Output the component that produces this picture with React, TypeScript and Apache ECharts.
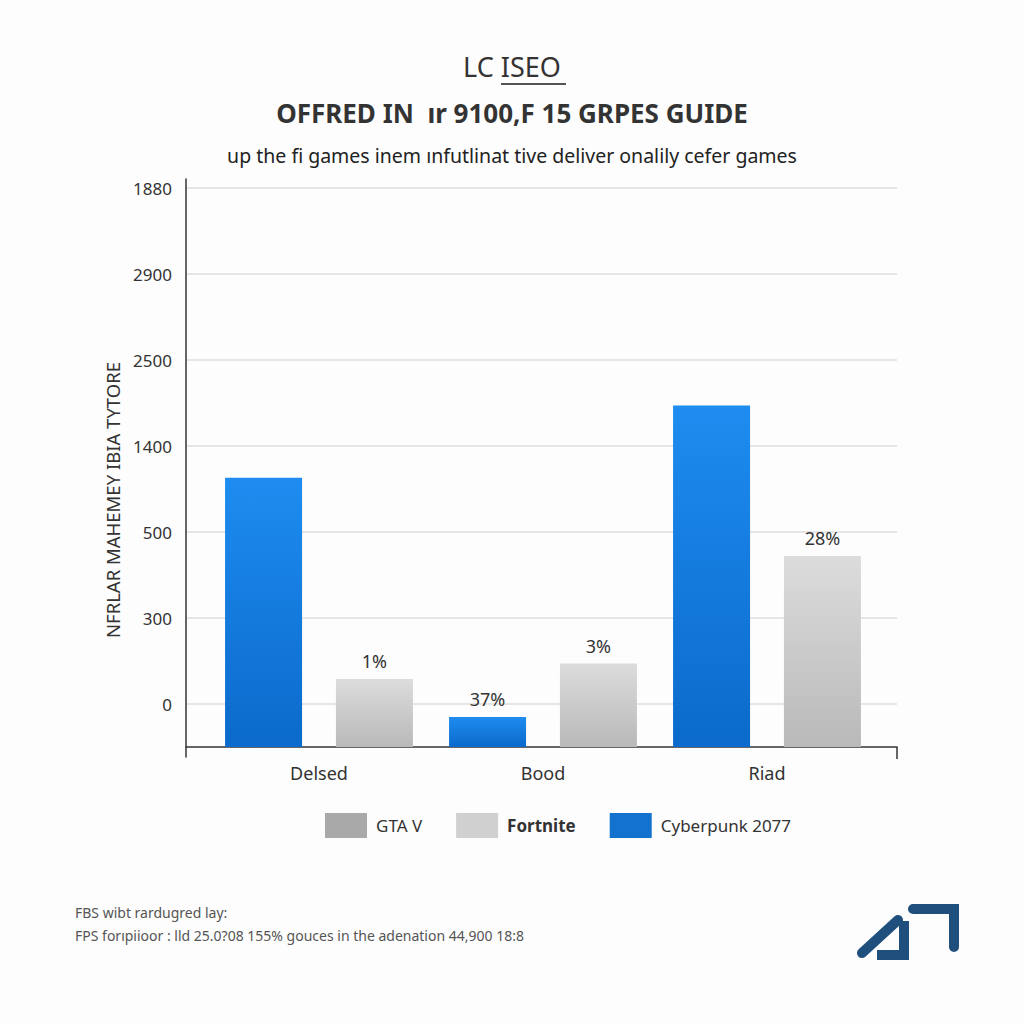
import React, { useEffect, useRef } from "react";
import * as echarts from "echarts";

// ---- data ----
const categories = ["Delsed", "Bood", "Riad"];
// bar heights in grid steps above the baseline (one step = distance between grid lines)
const cyberpunkValues = [3.13, 0.35, 3.97];
const fortniteValues = [0.79, 0.97, 2.22];
const cyberpunkLabels = ["", "37%", ""];
const fortniteLabels = ["1%", "3%", "28%"];
// tick labels from bottom to top
const yTickLabels = ["0", "300", "500", "1400", "2500", "2900", "1880"];
const yTickValues = [0.5, 1.5, 2.5, 3.5, 4.5, 5.5, 6.5];
const legendNames = ["GTA V", "Fortnite", "Cyberpunk 2077"];

const FONT = "'Noto Sans', 'Open Sans', sans-serif";

export default function App() {
  const ref = useRef<HTMLDivElement>(null);
  useEffect(() => {
    document.body.style.margin = "0";
    const chart = echarts.init(ref.current!, null, { renderer: "svg" });
    const blue = new echarts.graphic.LinearGradient(0, 0, 0, 1, [
      { offset: 0, color: "#1e8cf0" },
      { offset: 1, color: "#0b6acb" },
    ]);
    const gray = new echarts.graphic.LinearGradient(0, 0, 0, 1, [
      { offset: 0, color: "#dcdcdc" },
      { offset: 1, color: "#b9b9b9" },
    ]);
    const labelStyle = {
      position: "top",
      distance: 9,
      fontSize: 18,
      color: "#333",
      fontFamily: FONT,
    };
    chart.setOption({
      animation: false,
      backgroundColor: "#fdfdfd",
      textStyle: { fontFamily: FONT },
      title: [
        {
          text: "LC ISEO",
          left: "center",
          top: 48,
          textStyle: { fontSize: 27, fontWeight: "normal", color: "#333", fontFamily: FONT },
        },
        {
          text: "OFFRED IN  ır 9100,F 15 GRPES GUIDE",
          left: "center",
          top: 95,
          textStyle: { fontSize: 26, fontWeight: "bold", color: "#333", fontFamily: FONT },
        },
        {
          text: "up the ﬁ games inem ınfutlinat tive deliver onalily cefer games",
          left: "center",
          top: 140,
          textStyle: { fontSize: 19.5, fontWeight: "normal", color: "#222", fontFamily: FONT },
        },
        {
          text: "FBS wibt rardugred lay:",
          left: 70,
          top: 900,
          textStyle: { fontSize: 14, fontWeight: "normal", color: "#555", fontFamily: FONT },
        },
        {
          text: "FPS forıpiioor : lld 25.0?08 155% gouces in the adenation 44,900 18:8",
          left: 70,
          top: 923,
          textStyle: { fontSize: 14, fontWeight: "normal", color: "#555", fontFamily: FONT },
        },
      ],
      legend: {
        left: 320,
        top: 808,
        itemWidth: 42,
        itemHeight: 25,
        itemGap: 34,
        icon: "rect",
        data: [
          { name: legendNames[0], itemStyle: { color: "#a9a9a9" } },
          { name: legendNames[1], itemStyle: { color: "#d0d0d0" } },
          { name: legendNames[2], itemStyle: { color: "#1472cf" } },
        ],
        formatter: (name: string) =>
          name === "Fortnite" ? `{b|${name}}` : `{n|${name}}`,
        textStyle: {
          rich: {
            b: { fontSize: 17, fontWeight: "bold", color: "#333", fontFamily: FONT, padding: [0, 0, 0, 4] },
            n: { fontSize: 17, color: "#333", fontFamily: FONT, padding: [0, 0, 0, 4] },
          },
        },
      },
      grid: [
        { left: 207, right: 145, top: 188, bottom: 277 },
        { left: 186, right: 127, top: 179, bottom: 267 },
      ],
      xAxis: [
        {
          gridIndex: 0,
          type: "category",
          data: categories,
          axisLine: { show: false },
          axisTick: { show: false },
          axisLabel: { fontSize: 18, color: "#333", margin: 17, fontFamily: FONT },
        },
        {
          gridIndex: 1,
          type: "value",
          min: 0,
          max: 1,
          axisLine: { show: true, onZero: true, lineStyle: { color: "#333", width: 1.5 } },
          axisTick: { show: true, customValues: [1], length: 12, lineStyle: { color: "#333", width: 1.5 } },
          axisLabel: { show: false },
          splitLine: { show: false },
        },
      ],
      yAxis: [
        {
          gridIndex: 0,
          type: "value",
          min: 0,
          max: 6.5,
          show: false,
          splitLine: { show: false },
        },
        {
          gridIndex: 1,
          type: "value",
          min: -0.116,
          max: 6.605,
          axisLine: { show: true, lineStyle: { color: "#333", width: 1.5 } },
          axisTick: { show: false, customValues: yTickValues },
          axisLabel: {
            customValues: yTickValues,
            formatter: (v: number) => yTickLabels[Math.round(v - 0.5)] ?? "",
            fontSize: 17,
            color: "#333",
            margin: 14,
            fontFamily: FONT,
          },
          splitLine: { show: true, lineStyle: { color: "#e6e6e6", width: 2 } },
        },
      ],
      graphic: [
        {
          type: "text",
          x: 112,
          y: 500,
          rotation: Math.PI / 2,
          style: {
            text: "NFRLAR MAHEMEY IBIA TYTORE",
            fontSize: 18.5,
            fill: "#333",
            fontFamily: FONT,
            align: "center",
            verticalAlign: "middle",
          },
        },
        {
          type: "line",
          shape: { x1: 501, y1: 84, x2: 566, y2: 84 },
          style: { stroke: "#555", lineWidth: 2 },
        },
        {
          type: "polyline",
          shape: { points: [[862, 953], [898, 920]] },
          style: { stroke: "#1f4f7d", lineWidth: 10, fill: null, lineCap: "round" },
        },
        {
          type: "polyline",
          shape: { points: [[877, 955], [904, 955], [904, 921]] },
          style: { stroke: "#1f4f7d", lineWidth: 10, fill: null, lineJoin: "miter" },
        },
        {
          type: "polyline",
          shape: { points: [[913, 909], [954, 909], [954, 947]] },
          style: { stroke: "#1f4f7d", lineWidth: 10, fill: null, lineJoin: "miter", lineCap: "round" },
        },
      ],
      series: [
        {
          name: "Cyberpunk 2077",
          type: "bar",
          xAxisIndex: 0,
          yAxisIndex: 0,
          barWidth: 77,
          barGap: "44%",
          itemStyle: { color: blue },
          data: cyberpunkValues.map((v, i) => ({
            value: v,
            label: { show: cyberpunkLabels[i] !== "", formatter: cyberpunkLabels[i], ...labelStyle },
          })),
        },
        {
          name: "Fortnite",
          type: "bar",
          xAxisIndex: 0,
          yAxisIndex: 0,
          barWidth: 77,
          barGap: "44%",
          itemStyle: { color: gray },
          data: fortniteValues.map((v, i) => ({
            value: v,
            label: { show: fortniteLabels[i] !== "", formatter: fortniteLabels[i], ...labelStyle },
          })),
        },
        {
          name: "GTA V",
          type: "line",
          xAxisIndex: 0,
          yAxisIndex: 0,
          itemStyle: { color: "#a9a9a9" },
          data: [],
        },
      ],
    });
    return () => chart.dispose();
  }, []);
  return <div ref={ref} style={{ width: 1024, height: 1024 }} />;
}
